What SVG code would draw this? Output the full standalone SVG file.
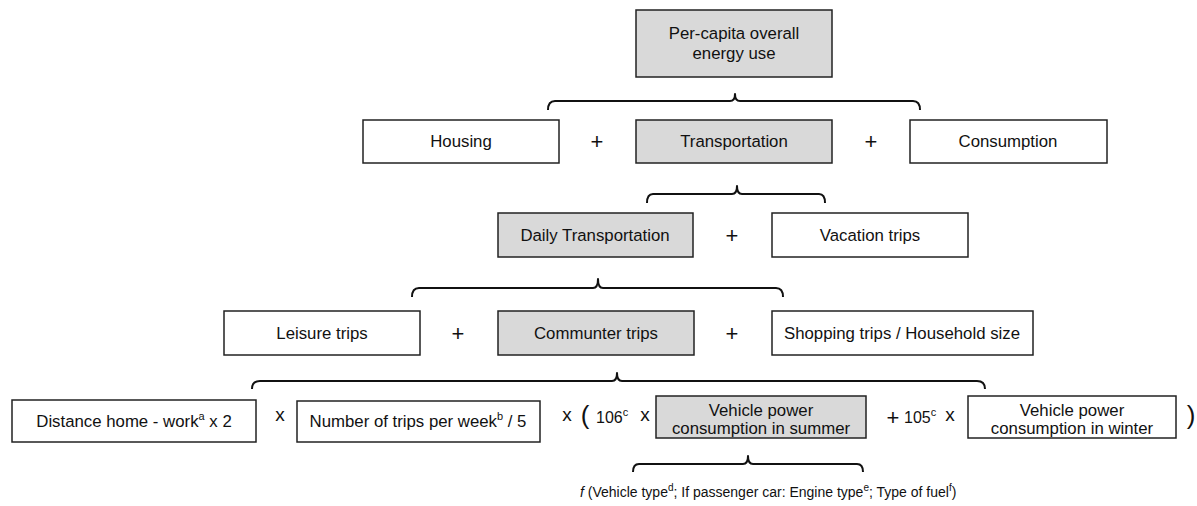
<svg xmlns="http://www.w3.org/2000/svg" width="1197" height="506" viewBox="0 0 1197 506">
<style>
.box{fill:#fff;stroke:#222;stroke-width:1.5}
.grey{fill:#d9d9d9;stroke:#222;stroke-width:1.5}
.t{font-family:"Liberation Sans",Arial,sans-serif;font-size:16.8px;fill:#111;text-anchor:middle}
.op{font-family:"Liberation Sans",Arial,sans-serif;font-size:22px;fill:#111;text-anchor:middle}
.s{font-family:"Liberation Sans",Arial,sans-serif;fill:#111}
.br{fill:none;stroke:#111;stroke-width:2;stroke-linejoin:round}
</style>
<rect width="1197" height="506" fill="#fff"/>
<g id="connectors">
<path class="br" d="M548,110 Q548,101 555,101 L730,101 Q735,101 735,94 Q735,101 740,101 L913,101 Q920,101 920,110"/>
<path class="br" d="M647,203 Q647,194 653,194 L732,194 Q737,194 737,186 Q737,194 742,194 L819,194 Q825,194 825,203"/>
<path class="br" d="M412,297 Q412,288 419,288 L593,288 Q598,288 598,279 Q598,288 603,288 L776,288 Q783,288 783,297"/>
<path class="br" d="M252,389 Q252,381 260,381 L612,381 Q617,381 617,373 Q617,381 622,381 L977,381 Q985,381 985,389"/>
<path class="br" d="M633,472 Q633,464 639,464 L743,464 Q748,464 748,456 Q748,464 753,464 L857,464 Q863,464 863,472"/>
</g>
<g id="n-total"><rect class="grey" x="636" y="10" width="196" height="67"/><text class="t" x="734" y="39">Per-capita overall</text><text class="t" x="734" y="59">energy use</text></g>
<g id="n-housing"><rect class="box" x="363" y="120" width="196" height="43"/><text class="t" x="461" y="147">Housing</text></g>
<text class="op" x="597" y="149">+</text>
<g id="n-transport"><rect class="grey" x="636" y="120" width="196" height="43"/><text class="t" x="734" y="147">Transportation</text></g>
<text class="op" x="871" y="149">+</text>
<g id="n-consumption"><rect class="box" x="910" y="120" width="197" height="43"/><text class="t" x="1008" y="147">Consumption</text></g>
<g id="n-daily"><rect class="grey" x="498" y="213" width="195" height="44"/><text class="t" x="595" y="241">Daily Transportation</text></g>
<text class="op" x="732" y="243">+</text>
<g id="n-vacation"><rect class="box" x="772" y="213" width="196" height="44"/><text class="t" x="870" y="241">Vacation trips</text></g>
<g id="n-leisure"><rect class="box" x="224" y="311" width="196" height="44"/><text class="t" x="322" y="339">Leisure trips</text></g>
<text class="op" x="458" y="341">+</text>
<g id="n-commuter"><rect class="grey" x="498" y="311" width="196" height="44"/><text class="t" x="596" y="339">Communter trips</text></g>
<text class="op" x="732" y="341">+</text>
<g id="n-shopping"><rect class="box" x="772" y="311" width="261" height="44"/><text class="t" x="902" y="339">Shopping trips / Household size</text></g>
<g id="n-distance"><rect class="box" x="12" y="400" width="244" height="42"/><text class="t" x="134" y="427">Distance home - work<tspan font-size="11" dy="-7">a</tspan><tspan dy="7"> x 2</tspan></text></g>
<text class="s" x="280" y="421" font-size="19" text-anchor="middle">x</text>
<g id="n-trips"><rect class="box" x="297" y="401" width="243" height="41"/><text class="t" x="418" y="427">Number of trips per week<tspan font-size="11" dy="-7">b</tspan><tspan dy="7"> / 5</tspan></text></g>
<text class="s" x="567" y="421" font-size="19" text-anchor="middle">x</text>
<text class="s" x="585" y="424" font-size="26" text-anchor="middle">(</text>
<text class="s" x="596" y="423" font-size="16">106<tspan font-size="11" dy="-7">c</tspan></text>
<text class="s" x="645" y="421" font-size="19" text-anchor="middle">x</text>
<g id="n-summer"><rect class="grey" x="656" y="396" width="210" height="42"/><text class="t" x="761" y="416">Vehicle power</text><text class="t" x="761" y="434">consumption in summer</text></g>
<text class="s" x="893" y="425" font-size="22" text-anchor="middle">+</text>
<text class="s" x="904" y="423" font-size="16">105<tspan font-size="11" dy="-7">c</tspan></text>
<text class="s" x="950" y="421" font-size="19" text-anchor="middle">x</text>
<g id="n-winter"><rect class="box" x="968" y="396" width="208" height="42"/><text class="t" x="1072" y="416">Vehicle power</text><text class="t" x="1072" y="434">consumption in winter</text></g>
<text class="s" x="1191" y="424" font-size="26" text-anchor="middle">)</text>
<text class="s" x="580" y="497" font-size="14"><tspan font-style="italic">f</tspan> (Vehicle type<tspan font-size="10" dy="-6">d</tspan><tspan dy="6">; If passenger car: Engine type</tspan><tspan font-size="10" dy="-6">e</tspan><tspan dy="6">; Type of fuel</tspan><tspan font-size="10" dy="-6">f</tspan><tspan dy="6">)</tspan></text>
</svg>
